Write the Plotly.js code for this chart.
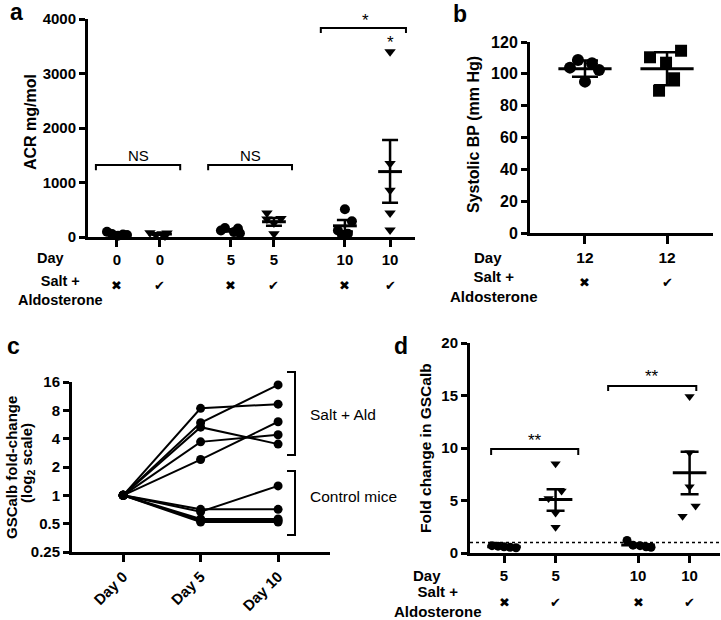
<!DOCTYPE html>
<html><head><meta charset="utf-8">
<script src="https://cdn.plot.ly/plotly-3.0.1.min.js"></script>
<style>html,body{margin:0;padding:0;background:#fff}#chart{width:721px;height:620px}</style>
</head><body><div id="chart"></div>
<script>
// ================= DATA =================
// Panel a : ACR mg/mol
const aDay = ['0', '0', '5', '5', '10', '10'];
const aSaltAldo = [false, true, false, true, false, true];
const aValues = [
  [95, 55, 45, 35, 25],
  [80, 75, 60, 35, 20],
  [165, 155, 120, 90, 70],
  [440, 340, 330, 255, 60],
  [510, 290, 120, 60, 40],
  [3400, 1350, 860, 440, 130]
];
const aMean = [45, 55, 120, 280, 205, 1200];
const aSemUp = [15, 15, 20, 70, 105, 580];
const aSemDown = [15, 15, 20, 73, 105, 570];
const aSigLabels = ['NS', 'NS', '*'];

// Panel b : Systolic BP
const bDay = ['12', '12'];
const bSaltAldo = [false, true];
const bValues = [
  [103.9, 108.7, 106.6, 102.4, 95.1],
  [110.4, 114.5, 107.0, 97.2, 89.4]
];
const bMean = [103.2, 103.2];
const bSemUp = [5.1, 10.3];
const bSemDown = [5.0, 10.3];

// Panel c : GSCalb fold-change (log2)
const cDays = ['Day 0', 'Day 5', 'Day 10'];
const cSaltDay0 = [1, 1, 1, 1, 1];
const cSaltDay5 = [8.4, 5.9, 5.3, 3.7, 2.4];
const cSaltDay10 = [9.3, 14.9, 3.5, 4.4, 6.05];
const cCtrlDay0 = [1, 1, 1, 1, 1];
const cCtrlDay5 = [0.67, 0.71, 0.56, 0.54, 0.52];
const cCtrlDay10 = [1.26, 0.71, 0.56, 0.54, 0.52];
const cGroupLabels = ['Salt + Ald', 'Control mice'];

// Panel d : Fold change in GSCalb
const dDay = ['5', '5', '10', '10'];
const dSaltAldo = [false, true, false, true];
const dValues = [
  [0.7, 0.65, 0.6, 0.55, 0.5],
  [8.5, 5.9, 5.2, 3.8, 2.45],
  [1.2, 0.75, 0.7, 0.6, 0.55],
  [14.9, 9.55, 6.3, 4.48, 3.5]
];
const dMean = [0.6, 5.1, 0.76, 7.65];
const dSemUp = [0.05, 0.97, 0.12, 2.0];
const dSemDown = [0.05, 1.07, 0.12, 2.05];
const dBaseline = 1;
const dSigLabels = ['**', '**'];

// ================= LAYOUT HELPERS =================
const F = 'Liberation Sans, Arial, Helvetica, sans-serif';
const SYM = 'DejaVu Sans, sans-serif';
function fnt(size, bold) { return {family: F, size: size, color: '#000', weight: bold ? 'bold' : 'normal'}; }
const mark = t => t ? '\u2714' : '\u2716';

// category positions & horizontal spreads (pixels) -- layout only
const aPos = [1, 2, 3.65, 4.65, 6.3, 7.35], aPx = 43;
const aJit = [[-10, -5, 6, 10, 1], [-10, 7, 2, -4, 5], [-6, 7, -10, 3, 9], [-7, 7, -7, 0, 0], [0, 7, -7, 3, -3], [0, 0, 0, 0, 0]];
const bPos = [1, 2], bPx = 82;
const bJit = [[-15, -7, 7, 14, 0], [-17, 14, -1, 7, -8]];
const dPos = [1, 2, 3.6, 4.6], dPx = 51.5;
const dJit = [[-12, -6, 0, 6, 12], [0, 6, -7, 0, 0], [-11, -5, 2, 8, 13], [0, 0, 0, 6, -7]];

const traces = [];
function addGroups(vals, pos, px, jit, treat, mean, up, down, xa, ya, msz, symOff, symOn, meanSize, capW) {
  vals.forEach((v, i) => {
    traces.push({
      type: 'scatter', mode: 'markers', xaxis: xa, yaxis: ya, cliponaxis: false,
      x: v.map((_, j) => pos[i] + jit[i][j] / px), y: v,
      marker: {color: '#000', size: msz, symbol: treat[i] ? symOn : symOff, line: {width: 0}},
      hoverinfo: 'y', showlegend: false
    });
    traces.push({
      type: 'scatter', mode: 'markers', xaxis: xa, yaxis: ya, cliponaxis: false,
      x: [pos[i]], y: [mean[i]],
      marker: {color: '#000', size: meanSize, symbol: 'line-ew-open', line: {color: '#000', width: 3}},
      error_y: {type: 'data', symmetric: false, array: [up[i]], arrayminus: [down[i]], color: '#000', thickness: 2.5, width: capW},
      hoverinfo: 'y', showlegend: false
    });
  });
}
addGroups(aValues, aPos, aPx, aJit, aSaltAldo, aMean, aSemUp, aSemDown, 'x', 'y', 10, 'circle', 'triangle-down', 17, 8);
addGroups(bValues, bPos, bPx, bJit, bSaltAldo, bMean, bSemUp, bSemDown, 'x2', 'y2', 12, 'circle', 'square', 38, 13);
addGroups(dValues, dPos, dPx, dJit, dSaltAldo, dMean, dSemUp, dSemDown, 'x4', 'y4', 9, 'circle', 'triangle-down', 24, 9);

// panel c lines
function addMice(d0, d5, d10) {
  d0.forEach((_, i) => {
    traces.push({
      type: 'scatter', mode: 'lines+markers', xaxis: 'x3', yaxis: 'y3', cliponaxis: false,
      x: [0, 1, 2], y: [d0[i], d5[i], d10[i]],
      line: {color: '#000', width: 2}, marker: {color: '#000', size: 9},
      hoverinfo: 'y', showlegend: false
    });
  });
}
addMice(cSaltDay0, cSaltDay5, cSaltDay10);
addMice(cCtrlDay0, cCtrlDay5, cCtrlDay10);

const axBase = {
  showline: true, linewidth: 3, linecolor: '#000', ticks: 'outside', tickwidth: 3, tickcolor: '#000',
  ticklen: 6, showgrid: false, zeroline: false, fixedrange: true, tickfont: fnt(15, true)
};
const W = 721, H = 620;
const px2x = p => p / W, px2y = p => 1 - p / H;

const layout = {
  width: W, height: H, margin: {l: 0, r: 0, t: 0, b: 0},
  paper_bgcolor: '#fff', plot_bgcolor: '#fff', showlegend: false,
  xaxis: Object.assign({}, axBase, {domain: [px2x(88), px2x(415)], range: [0.326, 7.93], anchor: 'y',
    tickmode: 'array', tickvals: aPos, ticktext: aDay, ticklen: 7}),
  yaxis: Object.assign({}, axBase, {domain: [px2y(237), px2y(19)], range: [0, 4000], anchor: 'x',
    tickmode: 'array', tickvals: [0, 1000, 2000, 3000, 4000]}),
  xaxis2: Object.assign({}, axBase, {domain: [px2x(530), px2x(713)], range: [0.33, 2.56], anchor: 'y2',
    tickmode: 'array', tickvals: bPos, ticktext: bDay, ticklen: 8, tickfont: fnt(15.5, true)}),
  yaxis2: Object.assign({}, axBase, {domain: [px2y(233), px2y(42)], range: [0, 120], anchor: 'x2',
    tickmode: 'linear', tick0: 0, dtick: 20, tickfont: fnt(16, true)}),
  xaxis3: Object.assign({}, axBase, {domain: [px2x(72), px2x(330)], range: [-0.66, 2.67], anchor: 'y3',
    tickmode: 'array', tickvals: [0, 1, 2], ticktext: cDays, tickangle: -45, ticklen: 7}),
  yaxis3: Object.assign({}, axBase, {type: 'log', domain: [px2y(552), px2y(382)],
    range: [Math.log10(0.25), Math.log10(16)], anchor: 'x3',
    tickmode: 'array', tickvals: [0.25, 0.5, 1, 2, 4, 8, 16], ticktext: ['0.25', '0.5', '1', '2', '4', '8', '16']}),
  xaxis4: Object.assign({}, axBase, {domain: [px2x(470), px2x(720)], range: [0.34, 5.19], anchor: 'y4',
    tickmode: 'array', tickvals: dPos, ticktext: dDay, ticklen: 7}),
  yaxis4: Object.assign({}, axBase, {domain: [px2y(553), px2y(343)], range: [0, 20], anchor: 'x4',
    tickmode: 'linear', tick0: 0, dtick: 5}),
  shapes: [], annotations: []
};

function bracket(xref, yref, x0, x1, yTop, yBot, w) {
  layout.shapes.push({type: 'path', xref: xref, yref: yref,
    path: `M${x0},${yBot} L${x0},${yTop} L${x1},${yTop} L${x1},${yBot}`,
    line: {color: '#000', width: w || 2}});
}
function ann(text, x, y, xref, yref, f, extra) {
  layout.annotations.push(Object.assign({text: text, x: x, y: y, xref: xref, yref: yref,
    showarrow: false, font: f, xanchor: 'center', yanchor: 'middle'}, extra || {}));
}

// panel a brackets
bracket('x', 'y', 0.51, 2.47, 1320, 1225);
bracket('x', 'y', 3.12, 5.07, 1320, 1225);
bracket('x', 'y', 5.74, 7.72, 3835, 3745);
ann(aSigLabels[0], 1.49, 1490, 'x', 'y', fnt(15, false));
ann(aSigLabels[1], 4.1, 1490, 'x', 'y', fnt(15, false));
ann(aSigLabels[2], 6.77, 3980, 'x', 'y', fnt(17, false));
ann('*', aPos[5], 3570, 'x', 'y', fnt(17, false));

// panel d brackets + baseline
bracket('x4', 'y4', 0.75, 2.44, 9.9, 9.33);
bracket('x4', 'y4', 3.02, 4.73, 15.9, 15.43);
ann(dSigLabels[0], 1.6, 10.75, 'x4', 'y4', fnt(17, false));
ann(dSigLabels[1], 3.87, 16.8, 'x4', 'y4', fnt(17, false));
layout.shapes.push({type: 'line', xref: 'x4 domain', yref: 'y4', x0: 0, x1: 1, y0: dBaseline, y1: dBaseline,
  line: {color: '#000', width: 1.5, dash: 'dot'}});

// panel c group brackets (paper)
function vbracket(xPx, tickPx, topPx, botPx) {
  layout.shapes.push({type: 'path', xref: 'paper', yref: 'paper',
    path: `M${px2x(tickPx)},${px2y(topPx)} L${px2x(xPx)},${px2y(topPx)} L${px2x(xPx)},${px2y(botPx)} L${px2x(tickPx)},${px2y(botPx)}`,
    line: {color: '#000', width: 2}});
}
vbracket(295, 287, 372, 455);
vbracket(295, 287, 471, 535);
ann(cGroupLabels[0], px2x(308), px2y(414), 'paper', 'paper', fnt(15.5, false), {xanchor: 'left'});
ann(cGroupLabels[1], px2x(308), px2y(496), 'paper', 'paper', fnt(15.5, false), {xanchor: 'left'});

// axis titles
ann('ACR mg/mol', px2x(30), px2y(122), 'paper', 'paper', fnt(16, true), {textangle: -90});
ann('Systolic BP (mm Hg)', px2x(473), px2y(135), 'paper', 'paper', fnt(16, true), {textangle: -90});
ann('GSCalb fold-change', px2x(11), px2y(468), 'paper', 'paper', fnt(15, true), {textangle: -90});
ann('(log<sub>2</sub> scale)', px2x(27), px2y(463), 'paper', 'paper', fnt(15, true), {textangle: -90});
ann('Fold change in GSCalb', px2x(425), px2y(448), 'paper', 'paper', fnt(15.5, true), {textangle: -90});

// row headings and treatment marks
function rows(xref, pos, treat, yDay, ySym, yLbl, xDay, xLbl, fs) {
  ann('Day', px2x(xDay), px2y(yDay), 'paper', 'paper', fnt(fs, true));
  ann('Salt +<br>Aldosterone', px2x(xLbl), px2y(yLbl), 'paper', 'paper', fnt(fs, true));
  treat.forEach((t, i) => ann(mark(t), pos[i], px2y(ySym), xref, 'paper', {family: SYM, size: 13, color: '#000'}));
}
rows('x', aPos, aSaltAldo, 258, 285, 290, 50, 60, 14.5);
rows('x2', bPos, bSaltAldo, 257, 282, 286, 488, 494, 15);
rows('x4', dPos, dSaltAldo, 575, 602, 601, 427, 438, 15);

// panel letters
ann('a', px2x(16), px2y(12), 'paper', 'paper', fnt(23, true));
ann('b', px2x(460), px2y(14), 'paper', 'paper', fnt(23, true));
ann('c', px2x(14), px2y(346), 'paper', 'paper', fnt(23, true));
ann('d', px2x(401), px2y(346), 'paper', 'paper', fnt(23, true));

Plotly.newPlot('chart', traces, layout, {staticPlot: true, displayModeBar: false});
</script>
</body></html>
